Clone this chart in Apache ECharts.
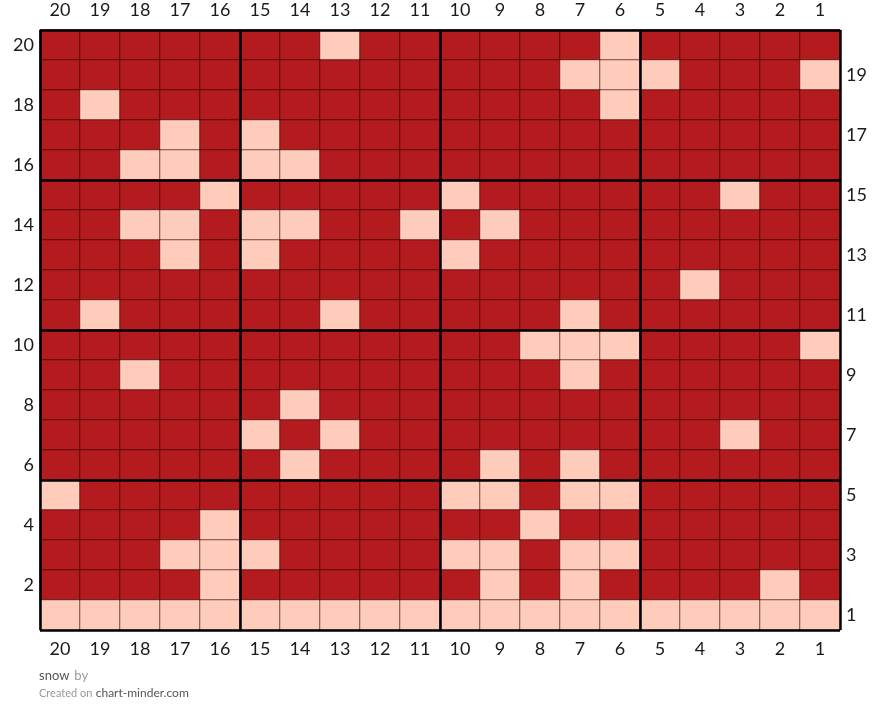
<!DOCTYPE html>
<html>
<head>
<meta charset="utf-8">
<title>snow</title>
<script src="https://cdn.jsdelivr.net/npm/echarts@6/dist/echarts.min.js"></script>
<style>
    html, body { margin: 0; padding: 0; background: #fff; }
    #main { width: 880px; height: 723px; }
</style>
</head>
<body>
<div id="main"></div>
<script>
// column numbers, left to right (knitting charts count from the right)
var columns = [20, 19, 18, 17, 16, 15, 14, 13, 12, 11, 10, 9, 8, 7, 6, 5, 4, 3, 2, 1];
// row numbers, bottom to top
var rows = [1, 2, 3, 4, 5, 6, 7, 8, 9, 10, 11, 12, 13, 14, 15, 16, 17, 18, 19, 20];

// pattern, top row (20) first; x = main colour, o = contrast colour
var pattern = [
    "xxxxx xxoxx xxxxo xxxxx", // 20
    "xxxxx xxxxx xxxoo oxxxo", // 19
    "xoxxx xxxxx xxxxo xxxxx", // 18
    "xxxox oxxxx xxxxx xxxxx", // 17
    "xxoox ooxxx xxxxx xxxxx", // 16
    "xxxxo xxxxx oxxxx xxoxx", // 15
    "xxoox ooxxo xoxxx xxxxx", // 14
    "xxxox oxxxx oxxxx xxxxx", // 13
    "xxxxx xxxxx xxxxx xoxxx", // 12
    "xoxxx xxoxx xxxox xxxxx", // 11
    "xxxxx xxxxx xxooo xxxxo", // 10
    "xxoxx xxxxx xxxox xxxxx", // 9
    "xxxxx xoxxx xxxxx xxxxx", // 8
    "xxxxx oxoxx xxxxx xxoxx", // 7
    "xxxxx xoxxx xoxox xxxxx", // 6
    "oxxxx xxxxx ooxoo xxxxx", // 5
    "xxxxo xxxxx xxoxx xxxxx", // 4
    "xxxoo oxxxx ooxoo xxxxx", // 3
    "xxxxo xxxxx xoxox xxxox", // 2
    "ooooo ooooo ooooo ooooo"  // 1
];

var DARK = "#b31b1e";
var LIGHT = "#ffccbb";

var cells = [];
for (var r = 0; r < pattern.length; r++) {
    var line = pattern[r].replace(/ /g, "");
    var y = rows.length - 1 - r;
    for (var c = 0; c < line.length; c++) {
        cells.push([c, y, line.charAt(c) === "o" ? 1 : 0]);
    }
}

var labelFont = {
    fontFamily: "Lato, 'Open Sans', sans-serif",
    fontSize: 18,
    color: "#1a1a1a"
};

function catAxis(pos, data, extra) {
    return {
        type: "category",
        position: pos,
        data: data,
        axisLine: {show: false},
        axisTick: {show: false},
        splitLine: {show: false},
        axisLabel: Object.assign({interval: 0}, labelFont, extra || {})
    };
}

// value axes only used to draw the heavy 5x5 guide lines over the cells
function guideAxis(pos) {
    return {
        type: "value",
        position: pos,
        min: 0,
        max: 20,
        interval: 5,
        z: 10,
        axisLine: {show: false},
        axisTick: {show: false},
        axisLabel: {show: false},
        splitLine: {show: true, lineStyle: {color: "#000", width: 2.5}}
    };
}

var chart = echarts.init(document.getElementById("main"));
chart.setOption({
    animation: false,
    backgroundColor: "#fff",
    title: {
        left: 34,
        top: 662,
        itemGap: 2,
        text: "{a|snow} {b|by}",
        textStyle: {
            fontWeight: "normal",
            rich: {
                a: {fontFamily: "Lato, sans-serif", fontSize: 13, fontWeight: "normal", color: "#555"},
                b: {fontFamily: "Lato, sans-serif", fontSize: 13, fontWeight: "normal", color: "#999"}
            }
        },
        subtext: "{c|Created on} {d|chart-minder.com}",
        subtextStyle: {
            rich: {
                c: {fontFamily: "Lato, sans-serif", fontSize: 11, color: "#999"},
                d: {fontFamily: "Lato, sans-serif", fontSize: 12, color: "#555"}
            }
        }
    },
    grid: {left: 40, top: 30, width: 800, height: 600},
    xAxis: [
        catAxis("bottom", columns, {margin: 10}),
        catAxis("top", columns, {margin: 11}),
        guideAxis("bottom")
    ],
    yAxis: [
        catAxis("left", rows, {
            margin: 6,
            interval: function (i) { return rows[i] % 2 === 0; }
        }),
        catAxis("right", rows, {
            margin: 6,
            interval: function (i) { return rows[i] % 2 === 1; }
        }),
        guideAxis("left")
    ],
    visualMap: {
        show: false,
        type: "piecewise",
        dimension: 2,
        seriesIndex: 0,
        pieces: [
            {value: 0, color: DARK},
            {value: 1, color: LIGHT}
        ]
    },
    series: [{
        type: "heatmap",
        xAxisIndex: 0,
        yAxisIndex: 0,
        data: cells,
        itemStyle: {
            borderColor: "rgba(40,0,0,0.6)",
            borderWidth: 1
        },
        emphasis: {disabled: true}
    }]
});
</script>
</body>
</html>
